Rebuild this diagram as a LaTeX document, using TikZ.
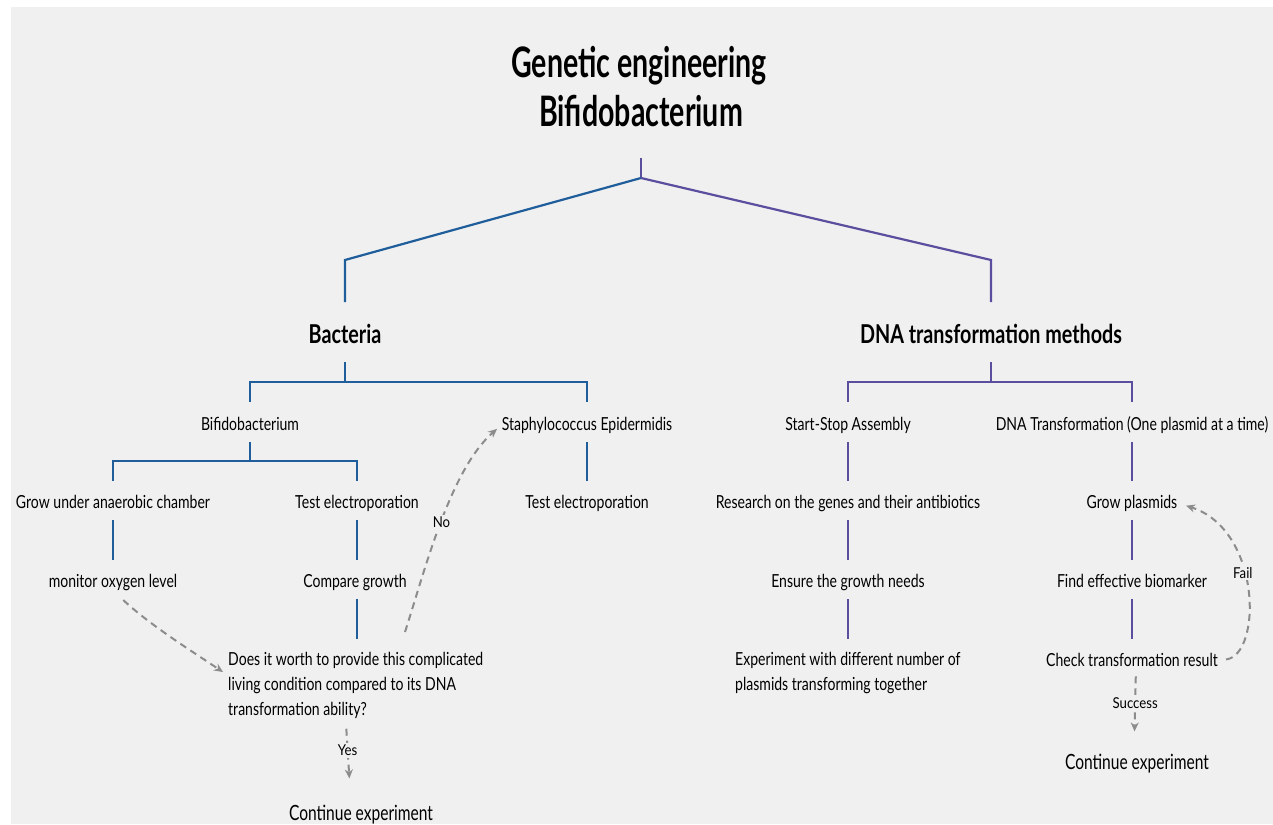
\documentclass[tikz,border=0pt]{standalone}
\usepackage{fontspec}
\setmainfont[FakeStretch=0.78]{Lato}
\newfontfamily\ttlfont[FakeStretch=0.68]{Lato}
\newfontfamily\subfont[FakeStretch=0.76]{Lato}
\newfontfamily\contfont[FakeStretch=0.74]{Lato}
\newfontfamily\lblfont[FakeStretch=0.88]{Lato}
\usetikzlibrary{arrows.meta}
\definecolor{bgc}{HTML}{F0F0F0}
\definecolor{bl}{RGB}{31,94,155}
\definecolor{pu}{RGB}{92,78,158}
\definecolor{dg}{RGB}{140,140,140}
\begin{document}
\begin{tikzpicture}[x=1pt,y=-1pt,
  txt/.style={inner sep=0pt, anchor=base, font=\fontsize{18}{25}\selectfont},
  para/.style={inner sep=0pt, anchor=north west, align=left, font=\fontsize{18}{25}\selectfont},
  ttl/.style={inner sep=0pt, anchor=base, font=\ttlfont\fontsize{42}{50}\selectfont\bfseries},
  sub/.style={inner sep=0pt, anchor=base, font=\subfont\fontsize{26}{30}\selectfont\bfseries},
  cont/.style={inner sep=0pt, anchor=base, font=\contfont\fontsize{21}{25}\selectfont},
  small/.style={inner sep=2pt, fill=bgc, font=\lblfont\fontsize{15}{16}\selectfont},
  bline/.style={draw=bl, line width=2.2pt},
  pline/.style={draw=pu, line width=2.2pt},
  dline/.style={draw=dg, line width=2pt, dash pattern=on 7pt off 5pt, -{Stealth[length=9pt,width=8pt]}},
]
\useasboundingbox (0,0) rectangle (1273,824);
\fill[white] (0,0) rectangle (1273,824);
\fill[bgc] (11,7) rectangle (1273,824);

% nodes
\node[ttl] (t1) at (639,78) {Genetic engineering};
\node[ttl] (t2) at (641,126) {Bifidobacterium};
\node[sub] (bact) at (345,343) {Bacteria};
\node[sub] (dna) at (991,343) {DNA transformation methods};
\node[txt] (bif) at (250,430) {Bifidobacterium};
\node[txt] (staph) at (587,430) {Staphylococcus Epidermidis};
\node[txt] (grow) at (113,508) {Grow under anaerobic chamber};
\node[txt] (test) at (357,508) {Test electroporation};
\node[txt] (test2) at (587,508) {Test electroporation};
\node[txt] (mon) at (113,587) {monitor oxygen level};
\node[txt] (cmp) at (355,587) {Compare growth};
\node[para] (q) at (228,652) {Does it worth to provide this complicated\\living condition compared to its DNA\\transformation ability?};
\node[cont] (cont1) at (361,820) {Continue experiment};

\node[txt] (ssa) at (848,430) {Start-Stop Assembly};
\node[txt] (dtr) at (1132,430) {DNA Transformation (One plasmid at a time)};
\node[txt] (res) at (848,508) {Research on the genes and their antibiotics};
\node[txt] (gp) at (1132,508) {Grow plasmids};
\node[txt] (ens) at (848,587) {Ensure the growth needs};
\node[txt] (feb) at (1132,587) {Find effective biomarker};
\node[para] (exp) at (735,652) {Experiment with different number of\\plasmids transforming together};
\node[txt] (chk) at (1132,666) {Check transformation result};
\node[cont] (cont2) at (1137,769) {Continue experiment};

\coordinate (top) at (641,178);
\coordinate (bk1) at (345,260);
\coordinate (bk2) at (991,260);
\coordinate (noS) at (405,632);

% tree connectors
\draw[pline, shorten <=32pt] (t2.base) -- (top);
\draw[bline, shorten >=41pt] (top) -- (bk1) -- (bact.base);
\draw[pline, shorten >=41pt] (top) -- (bk2) -- (dna.base);

\draw[bline, shorten <=19pt, shorten >=28pt] (bact.base) -- ++(0,39) -| (bif.base);
\draw[bline, shorten <=19pt, shorten >=28pt] (bact.base) -- ++(0,39) -| (staph.base);
\draw[bline, shorten <=12pt, shorten >=27pt] (bif.base) -- ++(0,31) -| (grow.base);
\draw[bline, shorten <=12pt, shorten >=27pt] (bif.base) -- ++(0,31) -| (test.base);
\draw[bline, shorten <=12pt, shorten >=27pt] (staph.base) -- (test2.base);
\draw[bline, shorten <=12pt, shorten >=27pt] (grow.base) -- (mon.base);
\draw[bline, shorten <=12pt, shorten >=27pt] (test.base) -- (test.base |- cmp.base);
\draw[bline, shorten <=12pt, shorten >=13pt] (test.base |- cmp.base) -- (test.base |- q.north);

\draw[pline, shorten <=19pt, shorten >=28pt] (dna.base) -- ++(0,39) -| (ssa.base);
\draw[pline, shorten <=19pt, shorten >=28pt] (dna.base) -- ++(0,39) -| (dtr.base);
\draw[pline, shorten <=12pt, shorten >=27pt] (ssa.base) -- (res.base);
\draw[pline, shorten <=12pt, shorten >=27pt] (res.base) -- (ens.base);
\draw[pline, shorten <=12pt, shorten >=13pt] (ens.base) -- (ens.base |- exp.north);
\draw[pline, shorten <=12pt, shorten >=27pt] (dtr.base) -- (gp.base);
\draw[pline, shorten <=12pt, shorten >=27pt] (gp.base) -- (feb.base);
\draw[pline, shorten <=12pt, shorten >=27pt] (feb.base) -- (chk.base);

% dashed connectors
\draw[dline, shorten <=14pt, shorten >=6pt] (mon.south) .. controls (150,625) and (190,650) .. ([yshift=10pt]q.west);
\draw[dline, shorten >=6pt] (noS) .. controls (425,570) and (450,470) .. (staph.west) node[small, pos=0.5] {No};
\draw[dline, shorten <=10pt, shorten >=26pt] ([xshift=-10pt]q.south) -- node[small, pos=0.37] {Yes} ([xshift=-10pt]cont1.north);
\draw[dline, shorten >=9pt] ([xshift=8pt]chk.east) .. controls (1262,655) and (1262,530) .. (gp.east) node[small, pos=0.58] {Fail};
\draw[dline, shorten <=10pt, shorten >=22pt] ([xshift=4pt]chk.south) -- node[small, pos=0.42] {Success} ([xshift=-3pt]cont2.north);
\end{tikzpicture}
\end{document}
